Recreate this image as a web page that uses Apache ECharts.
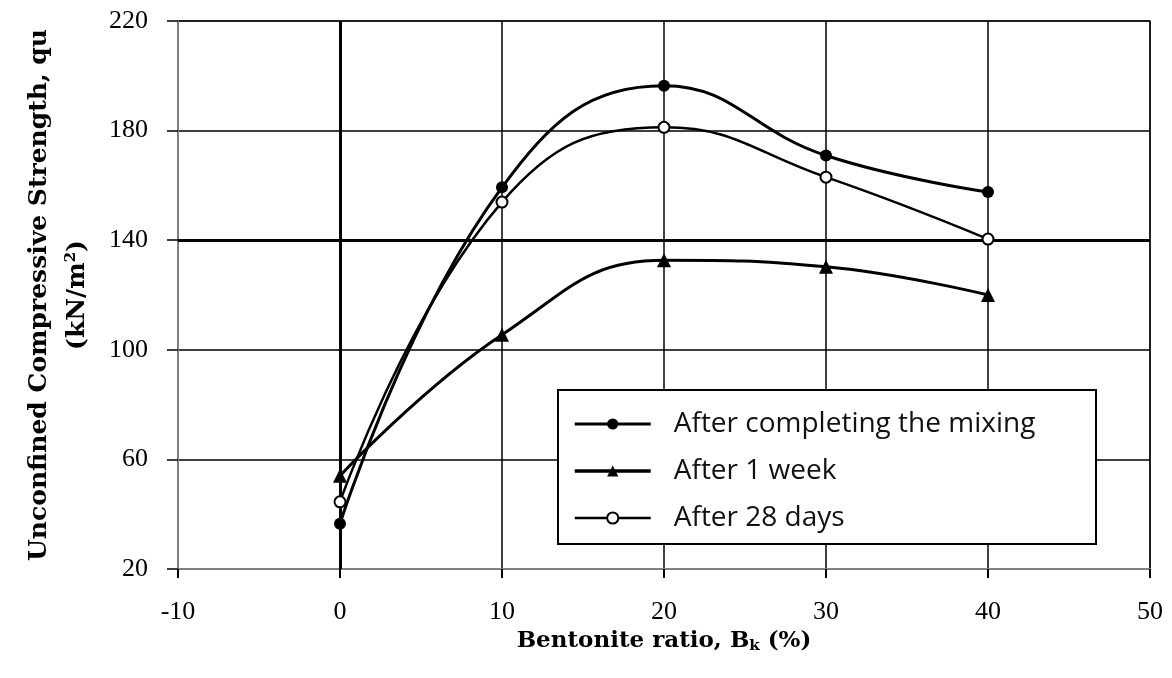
<!DOCTYPE html>
<html>
<head>
<meta charset="utf-8">
<script src="https://cdn.jsdelivr.net/npm/echarts@6/dist/echarts.min.js"></script>
<style>
  html, body { margin: 0; padding: 0; background: #fff; }
  #chart { width: 1172px; height: 678px; }
</style>
</head>
<body>
<div id="chart"></div>
<script>
// bentonite ratio (%)
const ratios = [0, 10, 20, 30, 40];
// unconfined compressive strength qu (kN/m2)
const afterMixing = [36.5, 159.3, 196.4, 170.9, 157.6];
const afterWeek = [54, 105.5, 132.7, 130.3, 120];
const after28Days = [44.5, 153.9, 181.2, 163, 140.4];

const seriesNames = ["After completing the mixing", "After 1 week", "After 28 days"];

const pairs = (ys) => ratios.map((x, i) => [x, ys[i]]);

const chart = echarts.init(document.getElementById("chart"));

const serif = "Liberation Serif";
const titleFont = "DejaVu Serif";

chart.setOption({
  animation: false,
  backgroundColor: "#fff",
  grid: {
    left: 178,
    right: 22,
    top: 21,
    bottom: 109,
    containLabel: false,
    outerBoundsMode: "none",
    show: true,
    borderColor: "#808080",
    borderWidth: 2,
  },
  // legend frame
  graphic: [
    {
      type: "rect",
      left: 557,
      top: 389,
      z: 3,
      shape: { width: 538, height: 154 },
      style: { fill: "#fff", stroke: "#000", lineWidth: 2 },
    },
  ],
  legend: {
    orient: "vertical",
    left: 573,
    top: 410,
    padding: 0,
    itemGap: 19,
    itemWidth: 76,
    itemHeight: 14,
    z: 4,
    textStyle: {
      fontFamily: "Open Sans",
      fontSize: 28,
      color: "#111",
      padding: [0, 0, 0, 18],
    },
    data: [
      { name: seriesNames[0], lineStyle: { width: 3 } },
      { name: seriesNames[1], lineStyle: { width: 3.5 } },
      { name: seriesNames[2], lineStyle: { width: 2.5 } },
    ],
  },
  xAxis: {
    type: "value",
    min: -10,
    max: 50,
    interval: 10,
    name: "Bentonite ratio, B{sub|k} (%)",
    nameLocation: "middle",
    nameGap: 58,
    nameTextStyle: {
      fontFamily: titleFont,
      fontWeight: "bold",
      fontSize: 23,
      color: "#000",
      rich: {
        sub: { fontFamily: titleFont, fontWeight: "bold", fontSize: 15, padding: [10, 0, 0, 0] },
      },
    },
    axisLine: { show: true, onZero: false, lineStyle: { color: "#808080", width: 2 } },
    axisTick: { show: true, length: 9, lineStyle: { color: "#000", width: 2 } },
    axisLabel: { margin: 30, fontFamily: serif, fontSize: 26, color: "#000" },
    splitLine: { show: true, lineStyle: { color: "#000", width: 1.5 } },
  },
  yAxis: {
    type: "value",
    min: 20,
    max: 220,
    interval: 40,
    name: "Unconfined Compressive Strength, qu\n(kN/m{sup|2})",
    nameLocation: "middle",
    nameRotate: 90,
    nameGap: 82,
    nameTextStyle: {
      fontFamily: titleFont,
      fontWeight: "bold",
      fontSize: 25,
      color: "#000",
      lineHeight: 38,
      align: "center",
      rich: {
        sup: { fontFamily: titleFont, fontWeight: "bold", fontSize: 15, padding: [0, 0, 12, 0] },
      },
    },
    axisLine: { show: true, onZero: false, lineStyle: { color: "#808080", width: 2 } },
    axisTick: { show: true, length: 11, lineStyle: { color: "#000", width: 1.5 } },
    axisLabel: { margin: 30, fontFamily: serif, fontSize: 26, color: "#000" },
    splitLine: { show: true, lineStyle: { color: "#000", width: 1.5 } },
  },
  series: [
    {
      name: seriesNames[0],
      type: "line",
      data: pairs(afterMixing),
      smooth: 0.45,
      symbol: "circle",
      symbolSize: 12,
      lineStyle: { color: "#000", width: 3 },
      itemStyle: { color: "#000" },
      z: 5,
      markLine: {
        silent: true,
        symbol: "none",
        label: { show: false },
        lineStyle: { color: "#000", width: 3, type: "solid" },
        data: [{ xAxis: 0 }, { yAxis: 140 }],
        z: 1,
      },
    },
    {
      name: seriesNames[1],
      type: "line",
      data: pairs(afterWeek),
      smooth: 0.45,
      symbol: "triangle",
      symbolSize: 14,
      lineStyle: { color: "#000", width: 3 },
      itemStyle: { color: "#000" },
      z: 5,
    },
    {
      name: seriesNames[2],
      type: "line",
      data: pairs(after28Days),
      smooth: 0.45,
      symbol: "circle",
      symbolSize: 11,
      lineStyle: { color: "#000", width: 2.5 },
      itemStyle: { color: "#fff", borderColor: "#000", borderWidth: 2 },
      z: 6,
    },
  ],
});
</script>
</body>
</html>
